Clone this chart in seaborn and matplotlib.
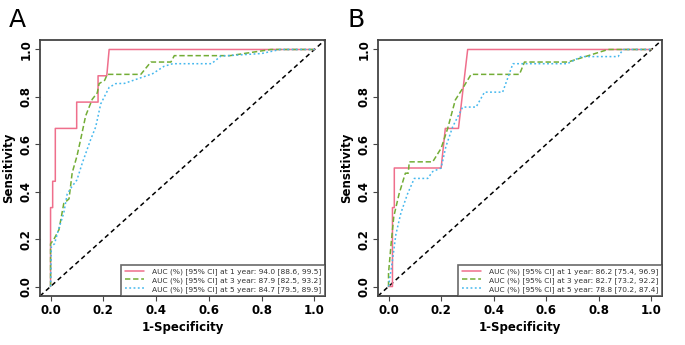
import numpy as np
import pandas as pd
import matplotlib
matplotlib.use("Agg")
import matplotlib.pyplot as plt
import seaborn as sns

# ---------------- data ----------------
panels = ["A", "B"]

labels_A = ["AUC (%) [95% CI] at 1 year: 94.0 [88.6, 99.5]",
            "AUC (%) [95% CI] at 3 year: 87.9 [82.5, 93.2]",
            "AUC (%) [95% CI] at 5 year: 84.7 [79.5, 89.9]"]
labels_B = ["AUC (%) [95% CI] at 1 year: 86.2 [75.4, 96.9]",
            "AUC (%) [95% CI] at 3 year: 82.7 [73.2, 92.2]",
            "AUC (%) [95% CI] at 5 year: 78.8 [70.2, 87.4]"]

y1_A_fpr = [0, 0, 0.008, 0.008, 0.018, 0.018, 0.099, 0.099, 0.180, 0.180, 0.213, 0.222, 1.0]
y1_A_tpr = [0, 0.333, 0.333, 0.444, 0.444, 0.667, 0.667, 0.778, 0.778, 0.889, 0.889, 1.0, 1.0]
y3_A_fpr = [0, 0, 0.013, 0.032, 0.05, 0.07, 0.082, 0.1, 0.114, 0.133, 0.158, 0.177, 0.184,
            0.205, 0.215, 0.342, 0.38, 0.456, 0.469, 0.68, 0.835, 1.0]
y3_A_tpr = [0, 0.18, 0.20, 0.24, 0.35, 0.37, 0.48, 0.55, 0.62, 0.72, 0.79, 0.817, 0.856,
            0.87, 0.895, 0.895, 0.947, 0.947, 0.974, 0.974, 1.0, 1.0]
y5_A_fpr = [0, 0.003, 0.015, 0.03, 0.05, 0.063, 0.08, 0.1, 0.12, 0.152, 0.171, 0.19, 0.222,
            0.247, 0.28, 0.34, 0.387, 0.43, 0.463, 0.61, 0.645, 0.8, 0.87, 1.0]
y5_A_tpr = [0, 0.17, 0.18, 0.24, 0.31, 0.39, 0.42, 0.45, 0.52, 0.62, 0.673, 0.77, 0.84,
            0.856, 0.857, 0.88, 0.898, 0.929, 0.94, 0.94, 0.972, 0.983, 1.0, 1.0]

y1_B_fpr = [0, 0.015, 0.015, 0.022, 0.022, 0.2, 0.216, 0.266, 0.301, 1.0]
y1_B_tpr = [0, 0, 0.333, 0.333, 0.5, 0.5, 0.667, 0.667, 1.0, 1.0]
y3_B_fpr = [0, 0, 0.009, 0.02, 0.04, 0.064, 0.075, 0.079, 0.168, 0.2, 0.225, 0.254, 0.282,
            0.314, 0.498, 0.517, 0.682, 0.835, 1.0]
y3_B_tpr = [0, 0.056, 0.17, 0.295, 0.39, 0.478, 0.478, 0.526, 0.526, 0.583, 0.667, 0.787,
            0.836, 0.895, 0.895, 0.947, 0.947, 1.0, 1.0]
y5_B_fpr = [0, 0.015, 0.028, 0.047, 0.072, 0.098, 0.149, 0.168, 0.2, 0.218, 0.244, 0.282,
            0.333, 0.365, 0.434, 0.473, 0.68, 0.733, 0.873, 0.892, 1.0]
y5_B_tpr = [0, 0.11, 0.22, 0.31, 0.39, 0.456, 0.456, 0.485, 0.5, 0.59, 0.674, 0.757,
            0.757, 0.82, 0.82, 0.94, 0.94, 0.97, 0.97, 1.0, 1.0]

ticks = [0.0, 0.2, 0.4, 0.6, 0.8, 1.0]
tick_labels = ["0.0", "0.2", "0.4", "0.6", "0.8", "1.0"]

colors = ["#EF6F8C", "#73AD36", "#45B8EE"]

# ---------------- build frames ----------------
def make_df(curves, labels):
    frames = []
    for (fx, ty), lab in zip(curves, labels):
        frames.append(pd.DataFrame({"fpr": fx, "tpr": ty, "series": lab}))
    return pd.concat(frames, ignore_index=True)

df_A = make_df([(y1_A_fpr, y1_A_tpr), (y3_A_fpr, y3_A_tpr), (y5_A_fpr, y5_A_tpr)], labels_A)
df_B = make_df([(y1_B_fpr, y1_B_tpr), (y3_B_fpr, y3_B_tpr), (y5_B_fpr, y5_B_tpr)], labels_B)

sns.set_style("white")
plt.rcParams["font.family"] = ["DejaVu Sans"]
plt.rcParams["text.color"] = "black"
plt.rcParams["axes.labelcolor"] = "black"
plt.rcParams["xtick.color"] = "black"
plt.rcParams["ytick.color"] = "black"

fig = plt.figure(figsize=(6.85, 3.45), dpi=100)
ax_A = fig.add_axes([40 / 685, 1 - 296 / 345, 285 / 685, 256 / 345])
ax_B = fig.add_axes([378 / 685, 1 - 296 / 345, 284 / 685, 256 / 345])

for ax, df, labels, letter in [(ax_A, df_A, labels_A, "A"), (ax_B, df_B, labels_B, "B")]:
    pal = dict(zip(labels, colors))
    dash = dict(zip(labels, ["", (3.5, 1.8), (1.2, 1.6)]))
    sns.lineplot(data=df, x="fpr", y="tpr", hue="series", style="series",
                 palette=pal, dashes=dash, sort=False, estimator=None,
                 linewidth=1.1, ax=ax)
    ax.plot([-0.04, 1.04], [-0.04, 1.04], color="black", linestyle=(0, (3, 2.2)), lw=1.1,
            zorder=1)
    ax.set_xlim(-0.04, 1.04)
    ax.set_ylim(-0.04, 1.04)
    ax.set_xticks(ticks)
    ax.set_xticklabels(tick_labels, fontweight="bold", fontsize=8.5)
    ax.set_yticks(ticks)
    ax.set_yticklabels(tick_labels, fontweight="bold", fontsize=8.5, rotation=90, va="center")
    ax.tick_params(axis="both", direction="out", length=3.5, width=0.8, color="#444444",
                   pad=2, bottom=True, left=True)
    ax.set_xlabel("1-Specificity", fontweight="bold", fontsize=8.5, labelpad=3)
    ax.set_ylabel("Sensitivity", fontweight="bold", fontsize=8.5, labelpad=3)
    for sp in ax.spines.values():
        sp.set_color("#444444")
        sp.set_linewidth(1.3)
    leg = ax.legend(loc="lower right", fontsize=5.4, frameon=True, fancybox=False,
                    borderaxespad=0, handlelength=2.6, labelspacing=0.25,
                    borderpad=0.45, handletextpad=1.1)
    leg.get_frame().set_edgecolor("#444444")
    leg.get_frame().set_linewidth(1.2)
    for t in leg.get_texts():
        t.set_color("#333333")
    fig.text(ax.get_position().x0 - 31 / 685, 1 - 27 / 345, letter, fontsize=18,
             ha="left", va="baseline")

fig.savefig("out.png", dpi=100)
